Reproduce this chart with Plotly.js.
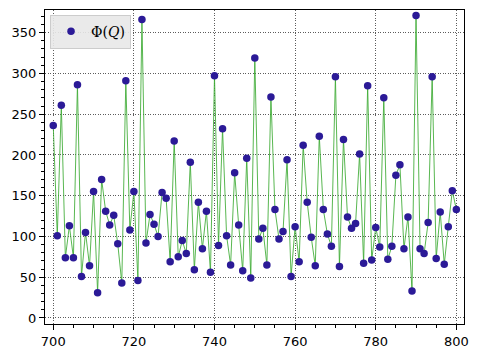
<!DOCTYPE html>
<html>
<head>
<meta charset="utf-8">
<script src="https://cdn.plot.ly/plotly-3.0.1.min.js"></script>
<style>
  body { margin: 0; background: #fff; }
  #chart { width: 479px; height: 357px; }
</style>
</head>
<body>
<div id="chart"></div>
<script>
// Q values along x axis
var qStart = 700;
var qEnd = 800;

// Φ(Q), one value per Q from 700 to 800
var phiValues = [
  236, 101, 261, 74, 113, 74, 286, 51, 105, 64,
  155, 31, 170, 131, 114, 126, 91, 43, 291, 108,
  155, 46, 366, 92, 127, 115, 100, 154, 147, 69,
  217, 75, 95, 79, 191, 59, 142, 85, 131, 56,
  297, 89, 232, 101, 65, 178, 114, 58, 196, 49,
  319, 97, 110, 65, 271, 133, 97, 106, 194, 51,
  112, 69, 212, 142, 99, 64, 223, 133, 103, 88,
  296, 63, 219, 124, 110, 116, 201, 67, 285, 71,
  111, 87, 270, 72, 88, 175, 188, 85, 124, 33,
  371, 85, 79, 117, 296, 73, 130, 66, 112, 156,
  133
];

var xTicks = [700, 720, 740, 760, 780, 800];
var yTicks = [0, 50, 100, 150, 200, 250, 300, 350];

var qValues = [];
for (let q = qStart; q <= qEnd; q++) {
  qValues.push(q);
}

// linha verde fina + pontos roxos
var lineTrace = {
  x: qValues, y: phiValues,
  type: "scatter", mode: "lines",
  line: { color: "rgba(60,170,50,0.85)", width: 1 },
  showlegend: false, hoverinfo: "skip"
};

var dotTrace = {
  x: qValues, y: phiValues,
  type: "scatter", mode: "markers",
  name: "Φ(<i>Q</i>)",
  marker: { color: "#2b1a97", size: 7.5 }
};

var axisBase = {
  showline: true, mirror: true, linecolor: "#000", linewidth: 1,
  ticks: "outside", ticklen: 5, tickwidth: 1, tickcolor: "#000",
  showgrid: true, gridcolor: "#333", gridwidth: 0.8, griddash: "1px,1.5px",
  zeroline: false,
  tickfont: { family: "DejaVu Sans", size: 13, color: "#000" }
};

var layout = {
  width: 479, height: 357,
  margin: { l: 45, r: 15, t: 10, b: 33 },
  paper_bgcolor: "#fff", plot_bgcolor: "#fff",
  showlegend: true,
  legend: {
    x: 0.012, y: 0.985, xanchor: "left", yanchor: "top",
    bgcolor: "rgba(232,232,232,0.9)", bordercolor: "#cccccc", borderwidth: 1,
    font: { family: "DejaVu Serif", size: 14, color: "#000" },
    itemwidth: 30
  },
  xaxis: Object.assign({}, axisBase, {
    range: [697.95, 801.9],
    tickvals: xTicks,
    minor: { dtick: 5, ticks: "outside", ticklen: 3, tickcolor: "#000", showgrid: false }
  }),
  yaxis: Object.assign({}, axisBase, {
    range: [-7.4, 377.8],
    tickvals: yTicks,
    minor: { dtick: 10, ticks: "outside", ticklen: 3, tickcolor: "#000", showgrid: false }
  })
};

Plotly.newPlot("chart", [lineTrace, dotTrace], layout, { staticPlot: true });
</script>
</body>
</html>
